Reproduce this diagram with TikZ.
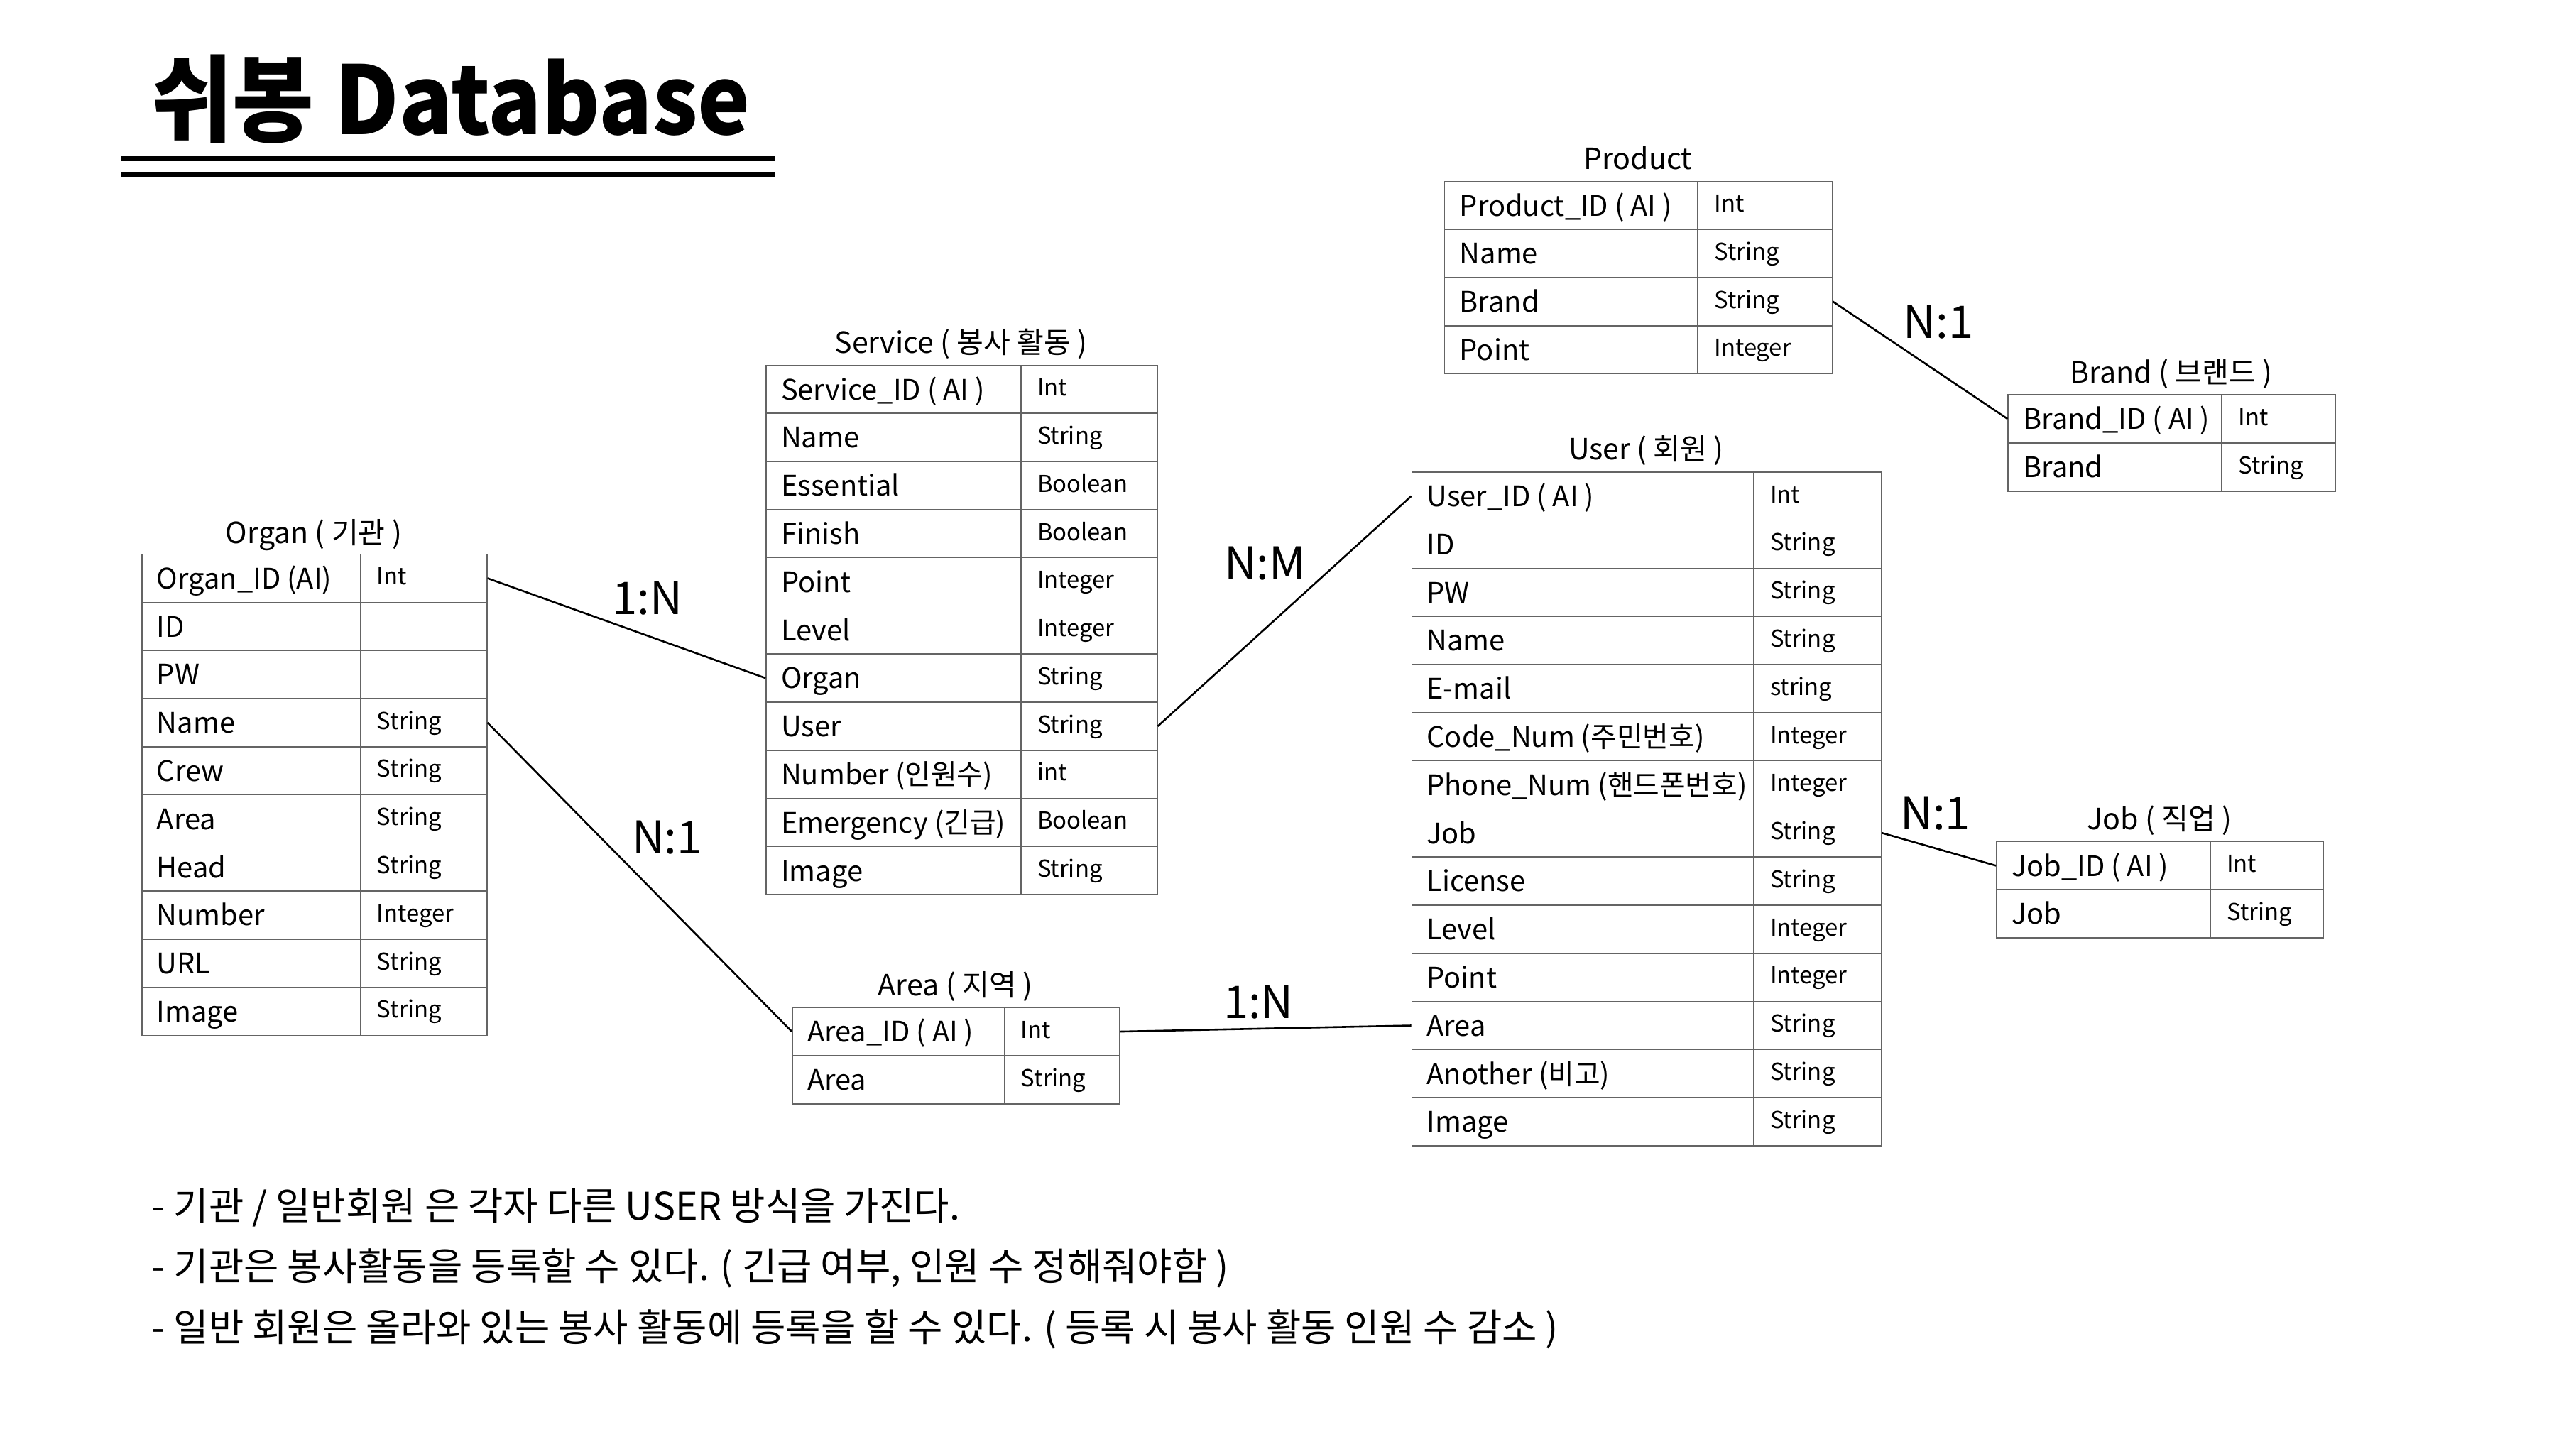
\documentclass[tikz,border=0pt]{standalone}
\usepackage{fontspec}
\setmainfont{Noto Sans CJK KR}
\begin{document}
\begin{tikzpicture}[x=0.5mm, y=-0.5mm,
  cell/.style={draw=gridgray, line width=1pt, minimum height=14.65mm, inner sep=0pt, anchor=north west},
  fname/.style={anchor=base west, xshift=3.5mm, yshift=-3.2mm, font=\fontsize{24.5}{28}\selectfont},
  ftype/.style={anchor=base west, xshift=4mm, yshift=-2mm, font=\fontsize{20.2}{24}\selectfont},
  tbltitle/.style={anchor=base, font=\fontsize{25.3}{30}\selectfont},
  rel/.style={line width=1.6pt},
  ratio/.style={font=\fontsize{39}{44}\selectfont},
  note/.style={anchor=west, font=\fontsize{33}{38}\selectfont}]
\definecolor{gridgray}{RGB}{100,100,100}
\path[use as bounding box, fill=white] (0,0) rectangle (1568,882);

% heading
\node[anchor=base west, inner sep=0pt, font=\fontsize{82}{90}\selectfont\bfseries\addfontfeatures{FakeStretch=0.935}] (head) at (92,82) {쉬봉 Database};
\draw[line width=1.6mm] (74,96.5) -- (472,96.5);
\draw[line width=1.6mm] (74,106) -- (472,106);

% Organ
\node[tbltitle] (orgtitle) at (191,331) {Organ ( 기관 )};
\foreach \fld/\typ [count=\i from 0] in {Organ\_ID (AI)/Int, ID/, PW/, Name/String, Crew/String, Area/String, Head/String, Number/Integer, URL/String, Image/String}{
  \node[cell, minimum width=66.5mm, label={[fname]west:\fld}] (org\i) at (86,337+29.3*\i) {};
  \node[cell, minimum width=38.5mm, label={[ftype]west:\typ}] (orgt\i) at (219,337+29.3*\i) {};
}

% Service
\node[tbltitle] (srvtitle) at (585,215) {Service ( 봉사 활동 )};
\foreach \fld/\typ [count=\i from 0] in {Service\_ID ( AI )/Int, Name/String, Essential/Boolean, Finish/Boolean, Point/Integer, Level/Integer, Organ/String, User/String, Number (인원수)/int, Emergency (긴급)/Boolean, Image/String}{
  \node[cell, minimum width=77.5mm, label={[fname]west:\fld}] (srv\i) at (466,222+29.3*\i) {};
  \node[cell, minimum width=41.5mm, label={[ftype]west:\typ}] (srvt\i) at (621,222+29.3*\i) {};
}

% Product
\node[tbltitle] (prdtitle) at (997,103) {Product};
\foreach \fld/\typ [count=\i from 0] in {Product\_ID ( AI )/Int, Name/String, Brand/String, Point/Integer}{
  \node[cell, minimum width=77mm, label={[fname]west:\fld}] (prd\i) at (879,110+29.3*\i) {};
  \node[cell, minimum width=41mm, label={[ftype]west:\typ}] (prdt\i) at (1033,110+29.3*\i) {};
}

% Brand
\node[tbltitle] (brdtitle) at (1321.5,233) {Brand ( 브랜드 )};
\foreach \fld/\typ [count=\i from 0] in {Brand\_ID ( AI )/Int, Brand/String}{
  \node[cell, minimum width=65mm, label={[fname]west:\fld}] (brd\i) at (1222,240+29.3*\i) {};
  \node[cell, minimum width=34.5mm, label={[ftype]west:\typ}] (brdt\i) at (1352,240+29.3*\i) {};
}

% User
\node[tbltitle] (usrtitle) at (1002,280) {User ( 회원 )};
\foreach \fld/\typ [count=\i from 0] in {User\_ID ( AI )/Int, ID/String, PW/String, Name/String, E-mail/string, Code\_Num (주민번호)/Integer, Phone\_Num (핸드폰번호)/Integer, Job/String, License/String, Level/Integer, Point/Integer, Area/String, Another (비고)/String, Image/String}{
  \node[cell, minimum width=104mm, label={[fname]west:\fld}] (usr\i) at (859,287+29.3*\i) {};
  \node[cell, minimum width=39mm, label={[ftype]west:\typ}] (usrt\i) at (1067,287+29.3*\i) {};
}

% Job
\node[tbltitle] (jobtitle) at (1314.5,505) {Job ( 직업 )};
\foreach \fld/\typ [count=\i from 0] in {Job\_ID ( AI )/Int, Job/String}{
  \node[cell, minimum width=65mm, label={[fname]west:\fld}] (job\i) at (1215,512+29.3*\i) {};
  \node[cell, minimum width=34.5mm, label={[ftype]west:\typ}] (jobt\i) at (1345,512+29.3*\i) {};
}

% Area
\node[tbltitle] (aretitle) at (581.5,606) {Area ( 지역 )};
\foreach \fld/\typ [count=\i from 0] in {Area\_ID ( AI )/Int, Area/String}{
  \node[cell, minimum width=64.5mm, label={[fname]west:\fld}] (are\i) at (482,613+29.3*\i) {};
  \node[cell, minimum width=35mm, label={[ftype]west:\typ}] (aret\i) at (611,613+29.3*\i) {};
}

% relations
\draw[rel] (orgt0.east) -- (srv6.west);
\draw[rel] (orgt3.east) -- (are0.west);
\draw[rel] (srvt7.east) -- (usr0.west);
\draw[rel] (aret0.east) -- (usr11.west);
\draw[rel] (prdt2.east) -- (brd0.west);
\draw[rel] (usrt7.east) -- (job0.west);
\node[ratio] (r1) at (394,364) {1:N};
\node[ratio] (r2) at (406,510) {N:1};
\node[ratio] (r3) at (770,343) {N:M};
\node[ratio] (r4) at (766,610) {1:N};
\node[ratio] (r5) at (1180,196) {N:1};
\node[ratio] (r6) at (1178,495) {N:1};

% notes
\node[note] (note1) at (90,735) {- 기관 / 일반회원 은 각자 다른 USER 방식을 가진다.};
\node[note] (note2) at (90,772) {- 기관은 봉사활동을 등록할 수 있다. ( 긴급 여부, 인원 수 정해줘야함 )};
\node[note] (note3) at (90,809) {- 일반 회원은 올라와 있는 봉사 활동에 등록을 할 수 있다. ( 등록 시 봉사 활동 인원 수 감소 )};
\end{tikzpicture}
\end{document}
